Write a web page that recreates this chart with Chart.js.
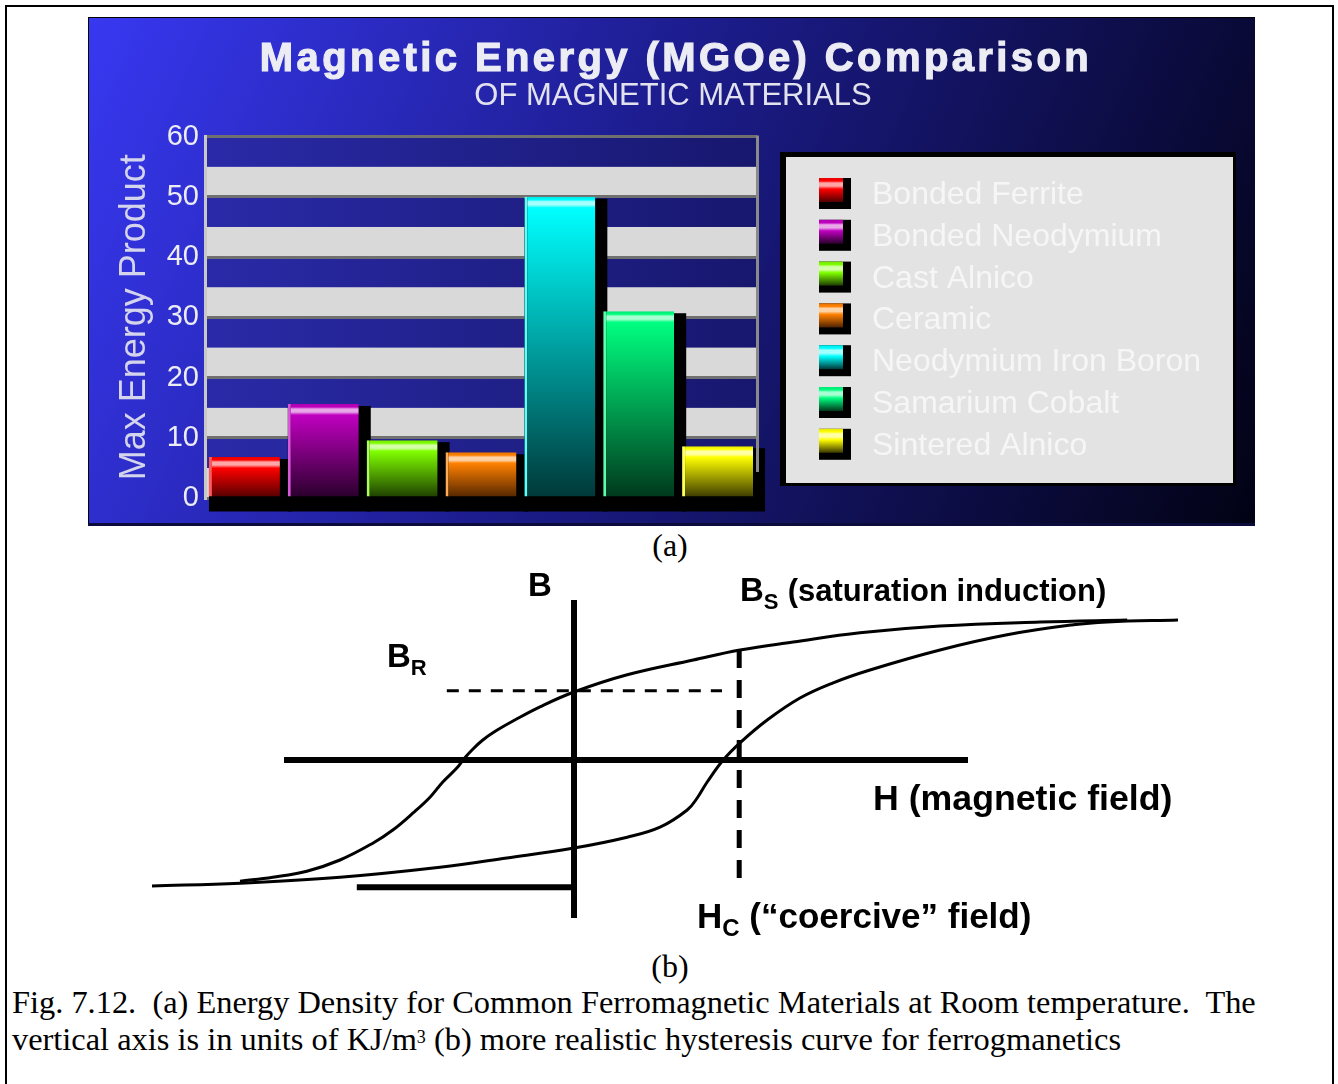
<!DOCTYPE html>
<html><head><meta charset="utf-8">
<script src="https://cdn.jsdelivr.net/npm/chart.js@4.4.1/dist/chart.umd.min.js"></script>
<style>
html,body{margin:0;padding:0;background:#fff;width:1338px;height:1084px;overflow:hidden;position:relative;}
#frame{position:absolute;left:5px;top:5px;width:1325px;height:1100px;border:2px solid #000;border-bottom:none;}
#chartA{position:absolute;left:88px;top:17px;}
#chartB{position:absolute;left:140px;top:565px;}
.t{position:absolute;white-space:pre;color:#000;margin:0;}
.serif{font-family:"Liberation Serif","Times New Roman",serif;font-size:32px;line-height:32px;}
.bold{font-family:"Liberation Sans",Arial,sans-serif;font-weight:bold;}
.sub{position:relative;top:8px;}
sup{font-size:18px;vertical-align:top;position:relative;top:-2px;}
</style>
</head><body>
<div id="frame"></div>
<canvas id="chartA" width="1167" height="509"></canvas>
<canvas id="chartB" width="1060" height="375"></canvas>

<div class="t serif" style="left:620px;top:529px;width:100px;text-align:center;">(a)</div>
<div class="t serif" style="left:620px;top:950px;width:100px;text-align:center;">(b)</div>

<div class="t bold" style="left:528px;top:568px;font-size:33px;line-height:33px;">B</div>
<div class="t bold" style="left:740px;top:573px;font-size:33px;line-height:33px;">B<span class="sub" style="font-size:22px;">S</span> <span style="font-size:31px;">(saturation induction)</span></div>
<div class="t bold" style="left:387px;top:639px;font-size:33px;line-height:33px;">B<span class="sub" style="font-size:22px;">R</span></div>
<div class="t bold" style="left:873px;top:781px;font-size:35.7px;line-height:35px;">H (magnetic field)</div>
<div class="t bold" style="left:697px;top:898px;font-size:35px;line-height:35px;">H<span class="sub" style="font-size:24px;">C</span> (“coercive” field)</div>

<div class="t serif" style="left:12px;top:984px;font-size:32.4px;line-height:37px;">Fig. 7.12.  (a) Energy Density for Common Ferromagnetic Materials at Room temperature.  The
vertical axis is in units of KJ/m<sup>3</sup> (b) more realistic hysteresis curve for ferrogmanetics</div>

<script>
// ---------- (a) bar chart data ----------
const chartTitle = 'Magnetic Energy (MGOe) Comparison';
const chartSubtitle = 'OF MAGNETIC MATERIALS';
const yAxisTitle = 'Max Energy Product';
const materials = ['Bonded Ferrite','Bonded Neodymium','Cast Alnico','Ceramic','Neodymium Iron Boron','Samarium Cobalt','Sintered Alnico'];
const maxEnergy = [6.8, 15.6, 9.6, 7.6, 50, 31, 8.6];
const yTickLabels = [0, 10, 20, 30, 40, 50, 60];
const barTopColors = ['#ff0000','#c000c0','#80ff00','#ff8000','#00ffff','#00ff80','#ffff00'];
const barBottomColors = ['#500000','#28002a','#1c3c00','#502400','#003838','#00381c','#383600'];

// ---------- (b) hysteresis data (H, B in arbitrary units) ----------
const upperH = [-8.35,-7.53,-6.68,-5.85,-5.03,-4.53,-4.03,-3.60,-3.28,-2.93,-2.75,-2.55,-2.28,-1.95,-1.48,-0.85,0,1.33,2.98,4.15,5.48,7.15,9.15,11.65,13.83];
const upperB = [-3.03,-2.93,-2.78,-2.50,-2.08,-1.75,-1.33,-0.93,-0.55,-0.20,0.03,0.25,0.50,0.73,1.00,1.33,1.70,2.13,2.50,2.75,2.95,3.18,3.35,3.45,3.50];
const lowerH = [-10.55,-8.35,-5.85,-3.35,-1.68,0,1.33,2.15,2.83,3.08,3.33,3.73,4.15,4.83,5.65,6.48,7.40,9.15,10.83,12.48,13.33,15.10];
const lowerB = [-3.15,-3.08,-2.93,-2.68,-2.45,-2.20,-1.93,-1.68,-1.25,-0.95,-0.55,0,0.43,1.00,1.55,1.93,2.25,2.75,3.13,3.38,3.45,3.50];
const hAxisH = [-7.25, 9.85],  hAxisB = [0, 0];
const bAxisH = [0, 0],         bAxisB = [4.0, -3.95];
const baseLineH = [-5.43, 0],  baseLineB = [-3.18, -3.18];
const remanenceH = [-3.18, 3.7], remanenceB = [1.73, 1.73];
const coerciveH = [4.13, 4.13],  coerciveB = [2.75, -3.18];

// ---------- helpers ----------
function mix(hex, w, t){
  const n = parseInt(hex.slice(1),16);
  const r=(n>>16)&255,g=(n>>8)&255,b=n&255;
  const m = parseInt(w.slice(1),16);
  const r2=(m>>16)&255,g2=(m>>8)&255,b2=m&255;
  const f=(a,c)=>Math.round(a+(c-a)*t);
  return 'rgb('+f(r,r2)+','+f(g,g2)+','+f(b,b2)+')';
}
function barGradient(ctx2d, i, yTop, yBase){
  const h = Math.max(1, yBase - yTop);
  const g = ctx2d.createLinearGradient(0, yTop, 0, yBase);
  const s = px => Math.min(1, Math.max(0, px / h));
  const top = barTopColors[i], hi = mix(top, '#ffffff', 0.65);
  g.addColorStop(0, mix(top,'#000000',0.1));
  g.addColorStop(s(3), top);
  g.addColorStop(s(5), hi);
  g.addColorStop(s(8), hi);
  g.addColorStop(s(11), top);
  g.addColorStop(1, barBottomColors[i]);
  return g;
}
const SANS = '"Liberation Sans", Arial, sans-serif';

const panelPlugin = {
  id: 'panel',
  beforeDraw(chart){
    const {ctx, width, height, chartArea, scales} = chart;
    ctx.save();
    const bg = ctx.createLinearGradient(0, 0, width, height);
    bg.addColorStop(0, '#3838f2');
    bg.addColorStop(0.45, '#1c1c8c');
    bg.addColorStop(1, '#020214');
    ctx.fillStyle = bg;
    ctx.fillRect(0, 0, width, height);
    ctx.fillStyle = '#000';
    ctx.fillRect(0, 0, width, 1);
    ctx.fillRect(0, 0, 1, height);
    ctx.fillStyle = '#0c0c3c';
    ctx.fillRect(0, height - 3, width, 3);
    // stripes every 5 units
    const y = scales.y;
    const blue = ctx.createLinearGradient(chartArea.left, 0, chartArea.right, 0);
    blue.addColorStop(0, '#2a2aa8');
    blue.addColorStop(1, '#17176e');
    for (let v = 0; v < 60; v += 5){
      const y1 = y.getPixelForValue(v + 5), y2 = y.getPixelForValue(v);
      ctx.fillStyle = (v / 5) % 2 === 0 ? '#d9d9d9' : blue;
      ctx.fillRect(chartArea.left, y1, chartArea.right - chartArea.left, y2 - y1);
    }
    // titles
    ctx.textAlign = 'center';
    ctx.textBaseline = 'alphabetic';
    ctx.fillStyle = '#ececf4';
    ctx.strokeStyle = '#ececf4';
    ctx.lineWidth = 1.2;
    ctx.font = 'bold 40px ' + SANS;
    if ('letterSpacing' in ctx) ctx.letterSpacing = '3.4px';
    ctx.fillText(chartTitle, 588, 54);
    ctx.strokeText(chartTitle, 588, 54);
    if ('letterSpacing' in ctx) ctx.letterSpacing = '0px';
    ctx.fillStyle = '#e2e2ee';
    ctx.font = '31px ' + SANS;
    ctx.fillText(chartSubtitle, 585, 88);
    ctx.restore();
  },
  beforeDatasetsDraw(chart){
    const {ctx} = chart;
    const meta = chart.getDatasetMeta(0);
    ctx.save();
    ctx.fillStyle = '#000';
    meta.data.forEach(el => {
      const left = el.x - el.width/2, right = el.x + el.width/2;
      ctx.fillRect(left, el.y + 2, right + 12 - left, el.base + 15 - el.y - 2);
    });
    ctx.restore();
  },
  afterDraw(chart){
    const {ctx, chartArea} = chart;
    ctx.save();
    // right border of plot
    ctx.fillStyle = '#8a8a8a';
    ctx.fillRect(chartArea.right - 1, chartArea.top - 1, 3, chartArea.bottom - chartArea.top - 25);
    // legend box
    const ox = 88, oy = 17;
    ctx.fillStyle = '#000';
    ctx.fillRect(780 - ox, 152 - oy, 456, 334);
    ctx.fillStyle = '#e3e3e3';
    ctx.fillRect(786 - ox, 157 - oy, 447, 326);
    ctx.font = '32px ' + SANS;
    ctx.textBaseline = 'alphabetic';
    ctx.textAlign = 'left';
    chart.data.labels.forEach((lab, i) => {
      const top = 178 + i * 41.8 - oy;
      const sx = 819 - ox;
      ctx.fillStyle = '#000';
      ctx.fillRect(sx, top, 32, 31);
      ctx.fillStyle = barGradient(ctx, i, top, top + 24);
      ctx.fillRect(sx, top, 24, 24);
      ctx.fillStyle = '#f6f6f6';
      ctx.fillText(lab, 872 - ox, top + 26);
    });
    ctx.restore();
  }
};

new Chart(document.getElementById('chartA'), {
  type: 'bar',
  data: {
    labels: materials,
    datasets: [{
      label: yAxisTitle,
      data: maxEnergy,
      backgroundColor: (c) => {
        const chart = c.chart;
        if (!chart.chartArea) return barTopColors[c.dataIndex];
        const ys = chart.scales.y;
        return barGradient(chart.ctx, c.dataIndex, ys.getPixelForValue(c.raw), ys.getPixelForValue(0));
      },
      borderColor: (c) => mix(barTopColors[c.dataIndex], '#ffffff', 0.35),
      borderWidth: {left: 3, top: 0, right: 0, bottom: 0},
      borderSkipped: false,
      barPercentage: 0.9,
      categoryPercentage: 1.0,
      clip: false
    }]
  },
  options: {
    responsive: false,
    animation: false,
    devicePixelRatio: 1,
    layout: {padding: {left: 0, right: 498, top: 119.5, bottom: 28}},
    plugins: {
      legend: {display: false},
      tooltip: {enabled: false},
      title: {display: false},
      subtitle: {display: false}
    },
    scales: {
      x: {display: false},
      y: {
        min: 0, max: 60,
        afterFit: (s) => { s.width = 117; },
        ticks: {stepSize: 5, color: '#ececf4', padding: 6,
                font: {family: SANS, size: 29},
                callback: (v) => yTickLabels.includes(v) ? String(v) : ''},
        grid: {color: '#707070', lineWidth: 3, drawTicks: false},
        border: {display: true, color: '#c8c8c8', width: 3},
        title: {display: true, text: yAxisTitle, color: '#d4d4ec',
                font: {family: SANS, size: 36, lineHeight: 1}, padding: {top: 29, bottom: 0}}
      }
    }
  },
  plugins: [panelPlugin]
});

// ---------- (b) hysteresis chart ----------
const pts = (H, B) => H.map((h, i) => ({x: h, y: B[i]}));
const lineDs = (H, B, w, extra) => Object.assign({
  data: pts(H, B), borderColor: '#000', borderWidth: w, pointRadius: 0,
  fill: false, tension: 0, borderCapStyle: 'butt'
}, extra || {});

new Chart(document.getElementById('chartB'), {
  type: 'line',
  data: {
    datasets: [
      lineDs(hAxisH, hAxisB, 6),
      lineDs(bAxisH, bAxisB, 6),
      lineDs(baseLineH, baseLineB, 6),
      lineDs(remanenceH, remanenceB, 3, {borderDash: [12, 10]}),
      lineDs(coerciveH, coerciveB, 5, {borderDash: [18, 12]}),
      lineDs(upperH, upperB, 3, {tension: 0.4}),
      lineDs(lowerH, lowerB, 3, {tension: 0.4})
    ]
  },
  options: {
    responsive: false,
    animation: false,
    devicePixelRatio: 1,
    layout: {padding: 0},
    plugins: {legend: {display: false}, tooltip: {enabled: false}},
    scales: {
      x: {type: 'linear', display: false, min: -10.85, max: 15.65},
      y: {type: 'linear', display: false, min: -4.5, max: 4.875}
    }
  }
});
</script>
</body></html>
